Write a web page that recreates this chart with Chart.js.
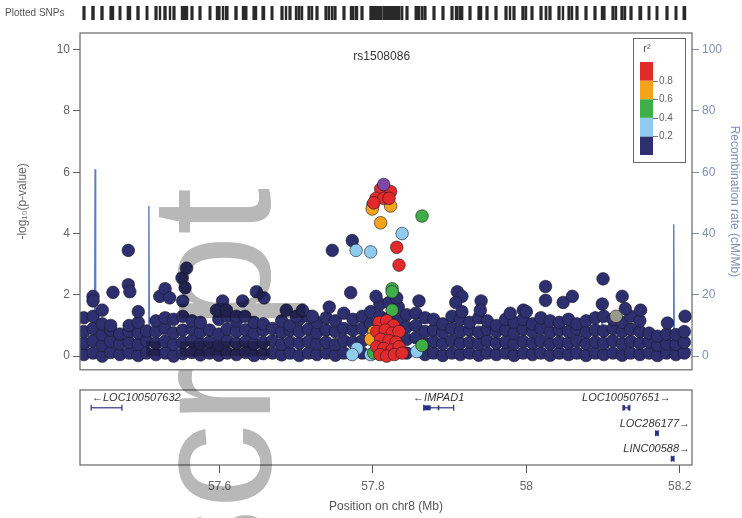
<!DOCTYPE html>
<html>
<head>
<meta charset="utf-8">
<script src="https://cdn.jsdelivr.net/npm/chart.js@4/dist/chart.umd.min.js"></script>
<style>
  body { margin:0; background:#fff; width:742px; height:518px; overflow:hidden; position:relative; font-family:"Liberation Sans", Arial, sans-serif; }
  #assoc { position:absolute; left:0; top:0; }
  #genes { position:absolute; left:0; top:380px; }
  #wm { position:absolute; left:126px; top:594px; transform-origin:0 0; transform:rotate(-90deg);
        font-size:170px; line-height:1; color:#b8b8b8; mix-blend-mode:multiply; white-space:nowrap; pointer-events:none; }
</style>
</head>
<body>
<canvas id="assoc" width="742" height="380"></canvas>
<canvas id="genes" width="742" height="138"></canvas>
<div id="wm">script</div>
<script>
// region shown (Mb on chr8)
var xMin = 57.418, xMax = 58.216;
var posTicks = [57.6, 57.8, 58.0, 58.2];
var posTickLabels = ['57.6', '57.8', '58', '58.2'];
var logpTicks = [0, 2, 4, 6, 8, 10];
var recombTicks = [0, 20, 40, 60, 80, 100];
var leadSnp = 'rs1508086';

// [position Mb, -log10 p] per r2 bin
var snpsNavy = [
  [57.423,0.05],[57.423,0.42],[57.423,0.8],[57.423,1.25],
  [57.435,0.1],[57.435,0.5],[57.435,0.9],[57.435,1.3],
  [57.447,0.0],[57.447,0.35],[57.447,0.7],[57.447,1.05],
  [57.458,0.12],[57.458,0.48],[57.458,0.85],[57.458,1.0],
  [57.470,0.05],[57.470,0.4],[57.470,0.72],
  [57.482,0.1],[57.482,0.45],[57.482,0.8],[57.482,1.0],
  [57.494,0.02],[57.494,0.38],[57.494,0.75],[57.494,1.1],
  [57.505,0.1],[57.505,0.5],[57.505,0.82],
  [57.517,0.05],[57.517,0.42],[57.517,0.8],[57.517,1.15],
  [57.529,0.1],[57.529,0.48],[57.529,0.9],[57.529,1.25],
  [57.540,0.0],[57.540,0.38],[57.540,0.76],[57.540,1.2],
  [57.552,0.08],[57.552,0.45],[57.552,0.85],[57.552,1.3],
  [57.564,0.12],[57.564,0.5],[57.564,0.88],[57.564,1.15],
  [57.575,0.04],[57.575,0.4],[57.575,0.78],[57.575,1.1],
  [57.587,0.1],[57.587,0.46],[57.587,0.85],
  [57.599,0.03],[57.599,0.36],[57.599,0.72],[57.599,1.2],
  [57.610,0.1],[57.610,0.5],[57.610,0.88],[57.610,1.3],
  [57.622,0.05],[57.622,0.42],[57.622,0.8],[57.622,1.15],
  [57.634,0.12],[57.634,0.48],[57.634,0.86],
  [57.645,0.02],[57.645,0.4],[57.645,0.75],[57.645,1.1],
  [57.657,0.08],[57.657,0.45],[57.657,0.85],[57.657,1.05],
  [57.669,0.1],[57.669,0.5],[57.669,0.9],
  [57.681,0.04],[57.681,0.38],[57.681,0.78],[57.681,1.15],
  [57.692,0.1],[57.692,0.46],[57.692,0.85],[57.692,1.0],
  [57.704,0.02],[57.704,0.42],[57.704,0.8],[57.704,1.2],
  [57.716,0.1],[57.716,0.48],[57.716,0.88],[57.716,1.3],
  [57.727,0.05],[57.727,0.4],[57.727,0.76],[57.727,1.1],
  [57.739,0.1],[57.739,0.45],[57.739,0.85],[57.739,1.25],
  [57.751,0.03],[57.751,0.38],[57.751,0.8],[57.751,1.15],
  [57.762,0.1],[57.762,0.5],[57.762,0.9],[57.762,1.4],
  [57.774,0.45],[57.774,0.85],[57.774,1.2],
  [57.786,0.1],[57.786,0.5],[57.786,0.9],[57.786,1.3],
  [57.797,1.05],[57.797,1.45],
  [57.809,1.3],[57.809,1.7],
  [57.821,1.25],[57.821,1.75],
  [57.833,1.2],[57.833,1.6],
  [57.844,0.1],[57.844,0.55],[57.844,0.95],[57.844,1.35],
  [57.856,0.6],[57.856,1.0],[57.856,1.4],
  [57.868,0.05],[57.868,0.4],[57.868,0.8],[57.868,1.25],
  [57.879,0.1],[57.879,0.48],[57.879,0.85],[57.879,1.2],
  [57.891,0.02],[57.891,0.4],[57.891,0.78],[57.891,1.05],
  [57.903,0.1],[57.903,0.5],[57.903,0.9],[57.903,1.3],
  [57.914,0.05],[57.914,0.42],[57.914,0.8],[57.914,1.2],
  [57.926,0.1],[57.926,0.45],[57.926,0.85],[57.926,1.1],
  [57.938,0.03],[57.938,0.4],[57.938,0.78],[57.938,1.25],
  [57.949,0.1],[57.949,0.5],[57.949,0.88],[57.949,1.15],
  [57.961,0.05],[57.961,0.42],[57.961,0.8],[57.961,1.0],
  [57.973,0.1],[57.973,0.46],[57.973,0.85],[57.973,1.2],
  [57.984,0.02],[57.984,0.4],[57.984,0.75],[57.984,1.1],
  [57.996,0.1],[57.996,0.48],[57.996,0.88],[57.996,1.2],
  [58.008,0.05],[58.008,0.42],[58.008,0.8],[58.008,1.05],
  [58.019,0.1],[58.019,0.5],[58.019,0.9],[58.019,1.25],
  [58.031,0.03],[58.031,0.4],[58.031,0.78],[58.031,1.15],
  [58.043,0.1],[58.043,0.46],[58.043,0.85],[58.043,1.1],
  [58.055,0.05],[58.055,0.42],[58.055,0.8],[58.055,1.2],
  [58.066,0.1],[58.066,0.5],[58.066,0.88],[58.066,1.05],
  [58.078,0.02],[58.078,0.4],[58.078,0.78],[58.078,1.15],
  [58.090,0.1],[58.090,0.46],[58.090,0.85],[58.090,1.25],
  [58.101,0.05],[58.101,0.42],[58.101,0.82],[58.101,1.3],
  [58.113,0.1],[58.113,0.5],[58.113,0.9],[58.113,1.2],
  [58.125,0.03],[58.125,0.4],[58.125,0.8],[58.125,1.1],
  [58.136,0.1],[58.136,0.48],[58.136,0.88],[58.136,1.3],
  [58.148,0.05],[58.148,0.42],[58.148,0.8],[58.148,1.15],
  [58.160,0.1],[58.160,0.46],[58.160,0.75],
  [58.171,0.02],[58.171,0.35],[58.171,0.65],
  [58.183,0.1],[58.183,0.4],[58.183,0.72],
  [58.195,0.05],[58.195,0.38],[58.195,0.7],
  [58.206,0.1],[58.206,0.45],[58.206,0.8],
  // higher ones
  [57.435,1.95],[57.435,1.8],[57.447,1.5],[57.461,2.08],[57.481,3.45],[57.481,2.33],[57.483,2.1],
  [57.494,1.45],[57.522,1.95],[57.529,2.2],[57.535,1.9],[57.551,2.55],[57.555,2.23],[57.557,2.87],
  [57.552,1.8],[57.596,1.5],[57.604,1.8],[57.609,1.5],[57.622,1.3],[57.630,1.8],[57.633,1.3],
  [57.648,2.1],[57.658,1.9],[57.687,1.5],[57.700,1.3],[57.708,1.5],[57.721,1.3],[57.743,1.6],
  [57.747,3.45],[57.771,2.07],[57.773,3.77],[57.804,1.95],[57.831,1.9],[57.860,1.8],[57.910,2.1],
  [57.916,1.95],[57.908,1.75],[57.916,1.45],[57.941,1.8],[57.940,1.5],[57.979,1.4],[57.996,1.5],
  [58.000,1.45],[58.025,2.27],[58.025,1.82],[58.048,1.75],[58.060,1.95],[58.100,2.52],[58.099,1.7],
  [58.125,1.95],[58.129,1.55],[58.149,1.5],[58.184,1.08],[58.207,1.3]
];
var snpsLightBlue = [[57.838,4.0],[57.778,3.45],[57.797,3.4],[57.779,0.25],[57.773,0.05],[57.797,0.05],[57.857,0.15]];
var snpsGreen = [[57.800,4.93],[57.864,4.57],[57.825,2.2],[57.825,2.1],[57.825,1.5],[57.864,0.35],[57.801,0.1]];
var snpsOrange = [[57.823,4.9],[57.799,4.8],[57.810,4.35],[57.801,0.8],[57.797,0.55]];
var snpsRed = [
  [57.810,5.45],[57.823,5.37],[57.804,5.15],[57.814,5.15],[57.821,5.15],[57.801,5.0],[57.831,3.55],[57.834,2.97],
  [57.808,1.1],[57.818,1.15],[57.827,1.0],[57.805,0.8],[57.816,0.85],[57.825,0.75],[57.834,0.8],
  [57.810,0.55],[57.821,0.5],[57.830,0.45],[57.805,0.3],[57.814,0.25],[57.825,0.2],[57.834,0.3],
  [57.809,0.05],[57.818,0.0],[57.828,0.05],[57.838,0.1]
];
var snpsLead = [[57.814,5.6]];
var snpsNoLd = [[58.117,1.3]];

// recombination rate (cM/Mb)
var recombPos = [57.418,57.426,57.434,57.4370,57.4377,57.4384,57.446,57.458,57.472,57.486,57.500,57.5070,57.5078,57.5086,
  57.518,57.540,57.570,57.600,57.640,57.680,57.720,57.760,57.800,57.840,57.880,57.920,57.960,58.000,58.040,58.080,
  58.0980,58.0987,58.0994,58.120,58.150,58.175,58.1915,58.1922,58.1929,58.205,58.216];
var recombRate = [3,2,4,6,61,5,3,2,4,3,2,5,49,4,3,2,1,2,1,2,1,1,2,1,2,1,1,2,1,2,4,18,3,2,1,2,5,43,6,3,2];

// genes
var geneNames  = ['LOC100507632', 'IMPAD1', 'LOC100507651', 'LOC286177', 'LINC00588'];
var geneStart  = [57.4325, 57.8662, 58.126, 58.1685, 58.189];
var geneEnd    = [57.4727, 57.9052, 58.135, 58.172, 58.1925];
var geneStrand = [-1, -1, 1, 1, 1];
var geneRow    = [1, 1, 1, 2, 3];
var exonStart  = [57.8662, 57.8845, 58.126, 58.132, 58.1685, 58.189];
var exonEnd    = [57.8753, 57.8865, 58.129, 58.135, 58.172, 58.1925];
var exonRow    = [1, 1, 1, 1, 2, 3];

var r2Colors = ['#2d2f6e', '#8fcbec', '#3fae49', '#f5a21d', '#e32a2a'];
var r2Labels = ['0.2', '0.4', '0.6', '0.8'];
var leadColor = '#7f48a8';
var geneColor = '#2e3386';

function pts(arr) { return arr.map(function (p) { return { x: p[0], y: p[1] }; }); }
function snpSet(data, color, order) {
  return {
    type: 'scatter', data: pts(data), order: order, yAxisID: 'y',
    pointRadius: 6.3, pointHoverRadius: 6.3,
    pointBackgroundColor: color, pointBorderColor: 'rgba(25,25,40,0.75)', pointBorderWidth: 0.8
  };
}

var allSnps = [].concat(snpsNavy, snpsLightBlue, snpsGreen, snpsOrange, snpsRed, snpsLead, snpsNoLd);

var boxPlugin = {
  id: 'box',
  afterDraw: function (chart) {
    var a = chart.chartArea, ctx = chart.ctx;
    ctx.save();
    ctx.strokeStyle = '#666';
    ctx.lineWidth = 1.2;
    ctx.strokeRect(a.left, a.top, a.right - a.left, a.bottom - a.top);
    ctx.restore();
  }
};

var assocDecor = {
  id: 'assocDecor',
  afterDraw: function (chart) {
    var ctx = chart.ctx, a = chart.chartArea, xs = chart.scales.x;
    ctx.save();
    // plotted SNPs strip
    ctx.fillStyle = '#555';
    ctx.font = '10px "Liberation Sans", Arial';
    ctx.textBaseline = 'middle';
    ctx.textAlign = 'left';
    ctx.fillText('Plotted SNPs', 5, 13);
    ctx.strokeStyle = '#2a2a2a';
    ctx.lineWidth = 2.4;
    allSnps.forEach(function (p) {
      var px = Math.round(xs.getPixelForValue(p[0]));
      ctx.beginPath(); ctx.moveTo(px, 6); ctx.lineTo(px, 20); ctx.stroke();
    });
    // lead SNP label
    ctx.fillStyle = '#333';
    ctx.font = '12px "Liberation Sans", Arial';
    ctx.textAlign = 'center';
    ctx.fillText(leadSnp, xs.getPixelForValue(snpsLead[0][0]) - 2, a.top + 24);
    // r2 legend
    var bx = a.right - 59, by = a.top + 5, bw = 52, bh = 124;
    ctx.fillStyle = '#fff';
    ctx.fillRect(bx, by, bw, bh);
    ctx.strokeStyle = '#666';
    ctx.lineWidth = 1;
    ctx.strokeRect(bx + 0.5, by + 0.5, bw, bh);
    var cx = bx + 7, cw = 13, ch = 18.6, cy0 = by + 117;
    for (var i = 0; i < r2Colors.length; i++) {
      ctx.fillStyle = r2Colors[i];
      ctx.fillRect(cx, cy0 - (i + 1) * ch, cw, ch);
    }
    ctx.strokeStyle = '#777';
    ctx.fillStyle = '#666';
    ctx.font = '10px "Liberation Sans", Arial';
    ctx.textAlign = 'left';
    for (var j = 0; j < r2Labels.length; j++) {
      var ly = Math.round(cy0 - (j + 1) * ch) + 0.5;
      ctx.beginPath(); ctx.moveTo(cx + cw, ly); ctx.lineTo(cx + cw + 5, ly); ctx.stroke();
      ctx.fillText(r2Labels[j], cx + cw + 6, ly);
    }
    ctx.fillStyle = '#555';
    ctx.font = '11px "Liberation Sans", Arial';
    ctx.textAlign = 'center';
    ctx.fillText('r\u00B2', cx + 7, by + 11);
    ctx.restore();
  }
};

new Chart(document.getElementById('assoc'), {
  data: {
    datasets: [
      {
        type: 'line', yAxisID: 'y2', order: 9,
        data: recombPos.map(function (p, i) { return { x: p, y: recombRate[i] }; }),
        borderColor: '#5a7cc0', borderWidth: 1.4, pointRadius: 0, tension: 0, fill: false
      },
      snpSet(snpsNavy, r2Colors[0], 8),
      snpSet(snpsNoLd, '#9a9a8a', 7),
      snpSet(snpsLightBlue, r2Colors[1], 5),
      snpSet(snpsGreen, r2Colors[2], 4),
      snpSet(snpsOrange, r2Colors[3], 3),
      snpSet(snpsRed, r2Colors[4], 2),
      snpSet(snpsLead, leadColor, 1)
    ]
  },
  options: {
    responsive: false,
    animation: false,
    layout: { padding: { top: 33, bottom: 3, left: 0, right: 0 } },
    plugins: { legend: { display: false }, tooltip: { enabled: false } },
    scales: {
      x: { type: 'linear', min: xMin, max: xMax, display: false },
      y: {
        position: 'left', min: -0.447, max: 10.543,
        afterBuildTicks: function (s) { s.ticks = logpTicks.map(function (v) { return { value: v }; }); },
        afterFit: function (s) { s.width = 80; },
        grid: { drawOnChartArea: false, drawTicks: true, tickLength: 7, color: '#666', tickColor: '#666' },
        border: { display: false },
        ticks: { color: '#666', font: { size: 12, family: '"Liberation Sans", Arial' }, padding: 3 },
        title: { display: true, text: '-log\u2081\u2080(p-value)', color: '#666',
                 font: { size: 12, family: '"Liberation Sans", Arial' }, padding: { top: 15, bottom: 0 } }
      },
      y2: {
        position: 'right', min: -4.47, max: 105.43,
        afterBuildTicks: function (s) { s.ticks = recombTicks.map(function (v) { return { value: v }; }); },
        afterFit: function (s) { s.width = 50; },
        grid: { drawOnChartArea: false, drawTicks: true, tickLength: 7, color: '#7f8fb2', tickColor: '#7f8fb2' },
        border: { display: false },
        ticks: { color: '#7f8fb2', font: { size: 12, family: '"Liberation Sans", Arial' }, padding: 3 },
        title: { display: true, text: 'Recombination rate (cM/Mb)', color: '#7f8fb2',
                 font: { size: 12, family: '"Liberation Sans", Arial' }, padding: { top: 0, bottom: 0 } }
      }
    }
  },
  plugins: [boxPlugin, assocDecor]
});

// gene track
var geneSets = [];
geneNames.forEach(function (n, i) {
  geneSets.push({
    type: 'line', data: [{ x: geneStart[i], y: geneRow[i] }, { x: geneEnd[i], y: geneRow[i] }],
    borderColor: geneColor, borderWidth: 1.2, pointStyle: 'line', pointRotation: 90,
    pointRadius: 3, pointBorderColor: geneColor, pointBorderWidth: 1.2
  });
});
exonStart.forEach(function (s, i) {
  geneSets.push({
    type: 'line', data: [{ x: s, y: exonRow[i] }, { x: exonEnd[i], y: exonRow[i] }],
    borderColor: geneColor, borderWidth: 5, borderCapStyle: 'butt', pointRadius: 0
  });
});

var geneLabels = {
  id: 'geneLabels',
  afterDraw: function (chart) {
    var ctx = chart.ctx, a = chart.chartArea, xs = chart.scales.x, ys = chart.scales.y;
    ctx.save();
    ctx.fillStyle = '#333';
    ctx.font = 'italic 11px "Liberation Sans", Arial';
    ctx.textBaseline = 'bottom';
    ctx.textAlign = 'left';
    geneNames.forEach(function (n, i) {
      var txt = geneStrand[i] < 0 ? '\u2190' + n : n + '\u2192';
      var w = ctx.measureText(txt).width;
      var c = xs.getPixelForValue((geneStart[i] + geneEnd[i]) / 2);
      var left = Math.min(Math.max(c - w / 2, a.left + 12), a.right - 2 - w);
      ctx.fillText(txt, left, ys.getPixelForValue(geneRow[i]) - 4);
    });
    ctx.restore();
  }
};

new Chart(document.getElementById('genes'), {
  data: { datasets: geneSets },
  options: {
    responsive: false,
    animation: false,
    layout: { padding: { top: 10, bottom: 0, left: 80, right: 50 } },
    plugins: { legend: { display: false }, tooltip: { enabled: false } },
    scales: {
      x: {
        type: 'linear', min: xMin, max: xMax,
        afterBuildTicks: function (s) { s.ticks = posTicks.map(function (v) { return { value: v }; }); },
        afterFit: function (s) { s.height = 53; },
        grid: { drawOnChartArea: false, drawTicks: true, tickLength: 8, color: '#555', tickColor: '#555' },
        border: { display: false },
        ticks: { color: '#666', font: { size: 12, family: '"Liberation Sans", Arial' }, padding: 6,
                 callback: function (v, i) { return posTickLabels[i]; } },
        title: { display: true, text: 'Position on chr8 (Mb)', color: '#555',
                 font: { size: 12, family: '"Liberation Sans", Arial' }, padding: { top: 0, bottom: 4 } }
      },
      y: { type: 'linear', display: false, min: 0.3, max: 3.25, reverse: true }
    }
  },
  plugins: [boxPlugin, geneLabels]
});
</script>
</body>
</html>
